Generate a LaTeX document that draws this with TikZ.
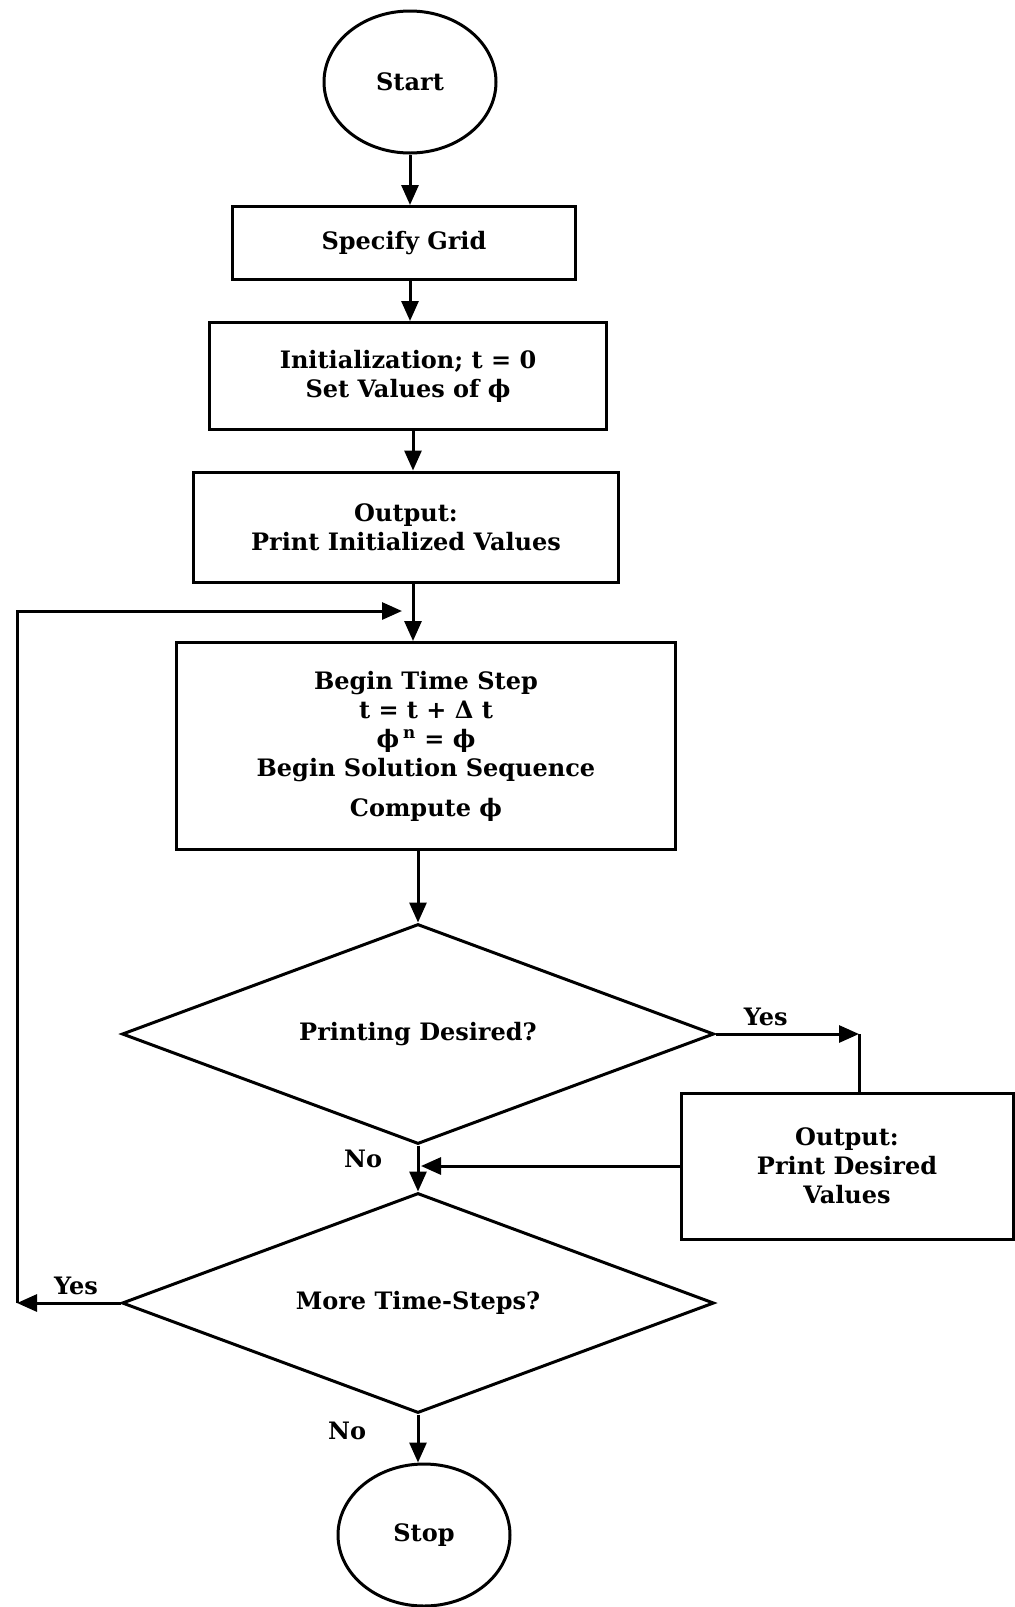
\documentclass[tikz,border=0pt]{standalone}
\usepackage{fontspec}
\setmainfont{DejaVu Serif}
\usetikzlibrary{shapes.geometric,arrows.meta}

\begin{document}
\begin{tikzpicture}[x=1pt,y=-1pt,line width=3pt,
  every node/.style={font=\fontsize{24}{29}\selectfont\bfseries},
  box/.style={draw,rectangle,align=center,inner sep=0pt},
  term/.style={draw,ellipse,minimum width=172pt,minimum height=142pt,inner sep=0pt},
  test/.style={draw,diamond,shape aspect=2.7,minimum width=592pt,minimum height=220pt,inner sep=0pt},
  flow/.style={-{Triangle[length=20pt,width=17pt]}}]

\useasboundingbox (0,0) rectangle (1015,1607);

% Start
\node[term] (start) at (410,82) {Start};

% Boxes
\node[box,minimum width=343pt,minimum height=73pt] (grid) at (404,243) {Specify Grid};
\node[box,minimum width=397pt,minimum height=107pt] (init) at (408,376) {Initialization; t = 0\\Set Values of ϕ};
\node[box,minimum width=425pt,minimum height=110pt] (outp) at (406,527) {Output:\\Print Initialized Values};
\node[box,minimum width=499pt,minimum height=207pt] (step) at (426,746)
  {Begin Time Step\\t = t + Δ t\\ϕ\,\textsuperscript{n} = ϕ\\Begin Solution Sequence\\[11pt]Compute ϕ};

% Decisions
\node[test] (print) at (418,1034) {Printing Desired?};
\node[test] (more) at (418,1303) {More Time-Steps?};
\node[box,minimum width=332pt,minimum height=146pt] (outd) at (847,1166) {Output:\\Print Desired\\Values};

% Stop
\node[term] (stop) at (424,1535) {Stop};

% Loop points
\coordinate (lft) at (17,611);
\coordinate (ljoin) at (402,611);
\coordinate (yesc) at (859,1039);
\coordinate (rjoin) at (421,1164);

% Main arrows
\draw[flow] (start.south) -- (start.south |- grid.north);
\draw[flow] (grid.south -| start) -- (init.north -| start);
\draw[flow] (init.south -| 413,0) -- (outp.north -| 413,0);
\draw[flow] (outp.south -| 413,0) -- (step.north -| 413,0);
\draw[flow] (step.south -| print) -- (print.north);
\draw[flow] (print.south) -- (more.north) node[pos=0.3,left=31pt] {No};
\draw[flow] (more.south) -- (more.south |- stop.north) node[pos=0.35,left=47pt] {No};

% Yes branch
\draw[flow] (print.east) -- (yesc |- print.east) node[pos=0.35,above=3pt] {Yes};
\draw (yesc |- print.east) -- (yesc |- outd.north);
\draw[flow] (outd.west) -- (outd.west -| rjoin);

% Loop back
\draw[flow] (more.west) -- (more.west -| lft) node[pos=0.43,above=3pt] {Yes};
\draw[flow] (more.west -| lft) -- (lft) -- (ljoin);

\end{tikzpicture}
\end{document}
